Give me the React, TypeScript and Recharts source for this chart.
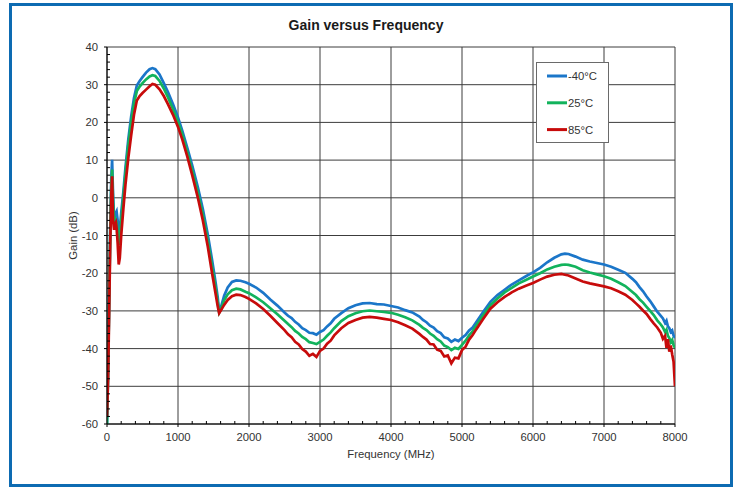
import React from 'react';
import { LineChart, Line, XAxis, YAxis, CartesianGrid, Legend } from 'recharts';

// Frequency (MHz)
const freqMHz = [
  0, 15, 30, 45, 60, 72, 85, 100, 112, 125, 135, 150, 165, 180, 200, 230, 260, 300, 340, 380,
  420, 460, 500, 550, 600, 640, 680, 740, 800, 860, 930, 1000, 1060, 1130, 1200, 1280, 1350, 1420,
  1480, 1530, 1560, 1580,
  1600, 1650, 1700, 1760, 1820, 1880, 1950, 2000,
  2100, 2200, 2300, 2400, 2500,
  2550, 2600, 2650, 2700, 2750, 2800, 2850, 2900, 2950, 3000, 3050, 3100, 3150, 3200,
  3300, 3400, 3500, 3600, 3700, 3800, 3900, 4000, 4100, 4200, 4300, 4400,
  4450, 4500, 4550, 4600, 4650, 4700, 4750, 4800, 4850, 4900, 4950, 5000, 5050, 5100, 5150, 5200,
  5300, 5400, 5500, 5600, 5700, 5800, 5900, 6000, 6100, 6200, 6300, 6400,
  6450, 6500,
  6600, 6700, 6800, 6900, 7000, 7100, 7200, 7300, 7400,
  7450, 7500, 7550, 7600, 7650, 7700, 7750, 7800,
  7830, 7860, 7880, 7900, 7920, 7940, 7960, 7980, 8000,
];

// Gain (dB) at -40°C
const gainMinus40 = [
  -60, -46, -27, -9, 5, 10.1, 1, -5.5, -6.5, -4, -3.6, -6, -9.5, -8.5, -4, 1.5, 8, 15.5, 21.5, 26.5,
  29.8, 31, 32, 33.2, 34.1, 34.4, 34.1, 32.7, 30.4, 28, 24.8, 21.3, 17.8, 13.3, 8.6, 2.8, -3, -9.8,
  -16.5, -22.5, -26.5, -30.4,
  -29.3, -26, -23.8, -22.3, -21.9, -22, -22.4, -22.8,
  -23.8, -25.2, -27, -28.6, -30.4,
  -31.3, -31.9, -32.9, -33.6, -34.6, -35.1, -35.8, -35.9, -36.3, -35.6, -35.1, -34.1, -33.3, -32.1,
  -30.6, -29.3, -28.5, -28, -27.9, -28.2, -28.3, -28.7, -29.1, -29.8, -30.4, -31.5,
  -32.4, -33, -33.9, -34.4, -35.4, -35.9, -37, -37.3, -38.2, -37.6, -38, -37.1, -36.4, -35.2, -34.4, -33,
  -30.2, -27.6, -25.8, -24.4, -23, -21.9, -20.8, -19.8, -18.6, -17.1, -15.9, -15,
  -14.8, -14.9,
  -15.6, -16.4, -16.9, -17.3, -17.7, -18.3, -19.1, -19.9, -21.5,
  -22.4, -23.7, -24.8, -26.2, -27.4, -28.8, -30.2, -31.3,
  -32, -33.2, -32.6, -34.1, -34.6, -35.6, -35.2, -36.6, -37.2,
];

// Gain (dB) at 25°C
const gain25 = [
  -60, -47, -28, -10, 3, 7.5, -1, -6.5, -7.5, -6, -6.5, -9, -12.5, -11, -6, 0, 6.5, 14, 20, 25,
  28.3, 29.5, 30.4, 31.4, 32.2, 32.5, 32.3, 31, 29, 26.6, 23.5, 20.2, 16.8, 12.2, 7.3, 1.4, -4.5, -11.4,
  -18.3, -24, -27.7, -30.5,
  -29.8, -27.2, -25.6, -24.5, -24.1, -24.3, -24.9, -25.3,
  -26.4, -27.7, -29.3, -30.9, -32.6,
  -33.5, -34.3, -35.3, -36, -36.9, -37.5, -38.3, -38.5, -38.8, -38.2, -37.6, -36.6, -35.7, -34.6,
  -32.7, -31.4, -30.6, -30.1, -29.9, -30.1, -30.3, -30.5, -31, -31.7, -32.5, -33.7,
  -34.5, -35.1, -36, -36.6, -37.5, -38.1, -39.2, -39.6, -40.4, -39.8, -40.1, -39, -37.9, -36.5, -35.4, -33.9,
  -31.1, -28.5, -26.7, -25.1, -23.9, -22.7, -21.8, -20.9, -20, -19, -18.3, -17.8,
  -17.7, -17.8,
  -18.3, -19.2, -19.8, -20.3, -20.8, -21.5, -22.4, -23.4, -25,
  -25.8, -26.9, -27.8, -28.9, -30, -31.1, -32.5, -33.6,
  -34.4, -35.6, -35, -36.6, -37.2, -38.3, -37.7, -39.1, -39.8,
];

// Gain (dB) at 85°C
const gain85 = [
  -58, -48, -31, -13, 0.5, 5.7, -6, -8.5, -7, -6.5, -8, -12, -17.7, -16, -10, -3, 3.5, 10.5, 16.5, 22,
  25.8, 27, 27.8, 28.7, 29.6, 30.2, 30, 28.8, 27, 24.8, 22, 18.8, 15.5, 11, 6, 0, -6, -13,
  -20, -25.5, -28.8, -30.6,
  -30, -28.4, -27.1, -26.1, -25.7, -25.8, -26.3, -26.8,
  -28, -29.5, -31.3, -33.2, -35.1,
  -36.2, -37, -38.2, -38.9, -40.1, -40.8, -41.9, -41.4, -42.2, -40.6, -40, -38.7, -37.9, -36.5,
  -34.6, -33.2, -32.4, -31.8, -31.6, -31.8, -32.1, -32.4, -33, -33.8, -34.7, -36.1,
  -36.9, -37.6, -38.8, -38.9, -40.3, -40.6, -42.1, -41.8, -43.9, -42.4, -42.6, -40.4, -39.5, -37.6, -36.4, -34.9,
  -32.1, -29.4, -27.7, -26.3, -25.1, -24.1, -23.3, -22.6, -21.7, -20.9, -20.4, -20.2,
  -20.4, -20.6,
  -21.4, -22.2, -22.7, -23.1, -23.5, -24, -24.8, -25.7, -27.1,
  -28, -28.9, -29.9, -30.8, -32.1, -33.3, -34.4, -35.8,
  -37.4, -36.6, -39.8, -37.5, -40.8, -39.2, -41.5, -43.5, -50,
];

const seriesNames = ['-40°C', '25°C', '85°C'];
const seriesColors = ['#1B76C9', '#12B35C', '#C70B0B'];

// labelled (major) ticks and all tick marks (every 200 MHz / every 2 dB)
const xMajorTicks = [0, 1000, 2000, 3000, 4000, 5000, 6000, 7000, 8000];
const yMajorTicks = [-60, -50, -40, -30, -20, -10, 0, 10, 20, 30, 40];
const xAllTicks = [
  0, 200, 400, 600, 800, 1000, 1200, 1400, 1600, 1800, 2000, 2200, 2400, 2600, 2800, 3000, 3200,
  3400, 3600, 3800, 4000, 4200, 4400, 4600, 4800, 5000, 5200, 5400, 5600, 5800, 6000, 6200, 6400,
  6600, 6800, 7000, 7200, 7400, 7600, 7800, 8000,
];
const yAllTicks = [
  -60, -58, -56, -54, -52, -50, -48, -46, -44, -42, -40, -38, -36, -34, -32, -30, -28, -26, -24,
  -22, -20, -18, -16, -14, -12, -10, -8, -6, -4, -2, 0, 2, 4, 6, 8, 10, 12, 14, 16, 18, 20, 22,
  24, 26, 28, 30, 32, 34, 36, 38, 40,
];
const X_DOMAIN: [number, number] = [0, 8000];
const Y_DOMAIN: [number, number] = [-60, 40];

const data = freqMHz.map((f, i) => ({
  f,
  s0: gainMinus40[i],
  s1: gain25[i],
  s2: gain85[i],
}));

const FONT = '"Liberation Sans", Arial, sans-serif';
const TEXT = '#333333';
const TICK_SIZE = 3;
const TICK_MARGIN = 6;
const TICK_FONT = 11.3;

const XTick = (props: any) => {
  const { x, y, payload } = props;
  const v = payload?.value;
  const major = xMajorTicks.includes(v);
  const axisY = y - TICK_SIZE - TICK_MARGIN;
  return (
    <g>
      <line
        x1={x}
        x2={x}
        y1={axisY}
        y2={major ? axisY + TICK_SIZE : axisY - TICK_SIZE}
        stroke="#000000"
        strokeWidth={1}
      />
      {major && (
        <text x={x} y={y} dy="0.71em" textAnchor="middle" fill={TEXT} fontSize={TICK_FONT} fontFamily={FONT}>
          {v}
        </text>
      )}
    </g>
  );
};

const YTick = (props: any) => {
  const { x, y, payload } = props;
  const v = payload?.value;
  const major = yMajorTicks.includes(v);
  const axisX = x + TICK_SIZE + TICK_MARGIN;
  return (
    <g>
      <line
        x1={major ? axisX - TICK_SIZE : axisX}
        x2={major ? axisX : axisX + TICK_SIZE}
        y1={y}
        y2={y}
        stroke="#000000"
        strokeWidth={1}
      />
      {major && (
        <text x={x} y={y} dy="0.355em" textAnchor="end" fill={TEXT} fontSize={TICK_FONT} fontFamily={FONT}>
          {v}
        </text>
      )}
    </g>
  );
};

const gridX = (arg: any) => {
  const { xAxis, offset } = arg || {};
  return xMajorTicks.map((v) =>
    xAxis && typeof xAxis.scale === 'function'
      ? xAxis.scale(v)
      : offset.left + ((v - X_DOMAIN[0]) / (X_DOMAIN[1] - X_DOMAIN[0])) * offset.width,
  );
};

const gridY = (arg: any) => {
  const { yAxis, offset } = arg || {};
  return yMajorTicks.map((v) =>
    yAxis && typeof yAxis.scale === 'function'
      ? yAxis.scale(v)
      : offset.top + ((Y_DOMAIN[1] - v) / (Y_DOMAIN[1] - Y_DOMAIN[0])) * offset.height,
  );
};

const LegendBox = () => (
  <svg width={73} height={81} style={{ display: 'block' }}>
    <rect x={0.5} y={0.5} width={72} height={80} fill="#ffffff" stroke="#6a6a6a" strokeWidth={1} />
    {seriesNames.map((name, i) => {
      const cy = 14 + i * 26.8;
      return (
        <g key={name}>
          <line x1={11} x2={31} y1={cy} y2={cy} stroke={seriesColors[i]} strokeWidth={3} />
          <text x={32} y={cy + 4} fontSize={11.3} fill={TEXT} fontFamily={FONT}>
            {name}
          </text>
        </g>
      );
    })}
  </svg>
);

export default function App() {
  return (
    <div
      style={{
        position: 'absolute',
        left: 0,
        top: 0,
        width: 735,
        height: 487,
        background: '#ffffff',
        fontFamily: FONT,
      }}
    >
      <LineChart
        width={735}
        height={487}
        data={data}
        margin={{ top: 47, right: 60, bottom: 23, left: 67 }}
        style={{ fontFamily: FONT }}
      >
        <CartesianGrid
          stroke="#3c3c3c"
          strokeWidth={1}
          verticalCoordinatesGenerator={gridX}
          horizontalCoordinatesGenerator={gridY}
        />
        <XAxis
          dataKey="f"
          type="number"
          domain={X_DOMAIN}
          allowDataOverflow
          ticks={xAllTicks}
          interval={0}
          height={40}
          tickSize={TICK_SIZE}
          tickMargin={TICK_MARGIN}
          axisLine={{ stroke: '#000000' }}
          tickLine={false}
          tick={XTick}
          label={{ value: 'Frequency (MHz)', position: 'insideBottom', offset: 6, fill: TEXT, fontSize: 11.3 }}
        />
        <YAxis
          type="number"
          domain={Y_DOMAIN}
          allowDataOverflow
          ticks={yAllTicks}
          interval={0}
          width={40}
          tickSize={TICK_SIZE}
          tickMargin={TICK_MARGIN}
          axisLine={{ stroke: '#000000' }}
          tickLine={false}
          tick={YTick}
          label={{
            value: 'Gain (dB)',
            angle: -90,
            position: 'insideLeft',
            offset: 6,
            fill: TEXT,
            fontSize: 11.3,
            style: { textAnchor: 'middle' },
          }}
        />
        <Legend
          layout="vertical"
          align="center"
          verticalAlign="middle"
          wrapperStyle={{ left: 536, top: 62, width: 73, height: 81 }}
          content={() => <LegendBox />}
        />
        {['s0', 's1', 's2'].map((k, i) => (
          <Line
            key={k}
            dataKey={k}
            name={seriesNames[i]}
            type="linear"
            stroke={seriesColors[i]}
            strokeWidth={2.7}
            dot={false}
            isAnimationActive={false}
          />
        ))}
      </LineChart>
      <div
        style={{
          position: 'absolute',
          left: 0,
          top: 17,
          width: 732,
          textAlign: 'center',
          fontSize: 14,
          lineHeight: '16px',
          fontWeight: 'bold',
          color: '#1a1a1a',
        }}
      >
        Gain versus Frequency
      </div>
      <div
        style={{
          position: 'absolute',
          left: 9,
          top: 3,
          width: 724,
          height: 484,
          border: '3px solid #0D6BB2',
          boxSizing: 'border-box',
          pointerEvents: 'none',
        }}
      />
    </div>
  );
}
